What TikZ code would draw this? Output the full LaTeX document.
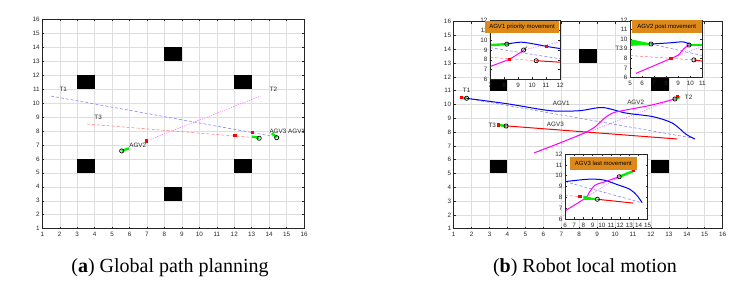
\documentclass[tikz,border=0pt]{standalone}
\usepackage{fontspec}
\setmainfont{Liberation Serif}
\setsansfont{Liberation Sans}
\usetikzlibrary{positioning}
\definecolor{gridgray}{HTML}{DEDEDE}
\definecolor{titleorange}{HTML}{DE8A1A}
\definecolor{agvgreen}{HTML}{00F000}
\definecolor{agvmagenta}{RGB}{255,0,255}
\definecolor{agvblue}{RGB}{0,0,255}
\definecolor{agvred}{RGB}{255,0,0}

% grid of an axes: xmin, xmax, ymin, ymax
\newcommand{\gridaxes}[4]{%
  \foreach \i in {#1,...,#2}{\draw[gridgray,line width=0.5pt] (\i,#3) -- (\i,#4);}
  \foreach \j in {#3,...,#4}{\draw[gridgray,line width=0.5pt] (#1,\j) -- (#2,\j);}}
% box, ticks and tick labels: xmin, xmax, ymin, ymax, name prefix
\newcommand{\axisframe}[5]{%
  \draw[black!85,line width=0.6pt] (#1,#3) rectangle (#2,#4);
  \foreach \i in {#1,...,#2}{
    \draw[black!85,line width=0.5pt] (\i,#3) -- ++(0pt,2pt) (\i,#4) -- ++(0pt,-2pt);
    \node[ticklbl,below=3pt] (#5x\i) at (\i,#3) {\i};}
  \foreach \j in {#3,...,#4}{
    \draw[black!85,line width=0.5pt] (#1,\j) -- ++(2pt,0pt) (#2,\j) -- ++(-2pt,0pt);
    \node[ticklbl,left=2pt] (#5y\j) at (#1,\j) {\j};}}
\newcommand{\redmark}[1]{\fill[agvred] #1 ++(-1.6pt,-1.6pt) rectangle ++(3.2pt,3.2pt);}
\newcommand{\agvmark}[1]{\draw[black,line width=0.7pt] #1 circle[radius=2.1pt];}

\begin{document}
\begin{tikzpicture}[x=1pt,y=1pt,
  ticklbl/.style={font=\sffamily\fontsize{6.3}{7}\selectfont,text=black!85,inner sep=0.5pt},
  plotlbl/.style={font=\sffamily\fontsize{6.3}{7}\selectfont,text=black!85,inner sep=0.5pt},
  titlebox/.style={fill=titleorange,font=\sffamily\fontsize{6}{7}\selectfont,inner sep=0pt},
  caption/.style={font=\rmfamily\fontsize{20}{24}\selectfont,inner sep=0pt,anchor=base},
  obstacle/.style={fill=black},
  tdash/.style={line width=0.5pt,dash pattern=on 3pt off 2pt},
  tdot/.style={line width=0.5pt,dash pattern=on 1.2pt off 1.2pt},
  route/.style={line width=1pt},
  agvtrail/.style={agvgreen,line width=2.4pt}]
\useasboundingbox (0,0) rectangle (752,294);

% (a) global path planning
\begin{scope}[shift={(24.85pt,51.34pt)},x=17.45pt,y=13.96pt]
\gridaxes{1}{16}{1}{16}
\foreach \ox/\oy in {3/11,8/13,12/11,3/5,12/5,8/3}
  \fill[obstacle] (\ox,\oy) rectangle ++(1,1);
\draw[agvblue!55,tdash] (1.5,10.5) -- (14.2,7.62);
\draw[agvred!55,tdash] (3.55,8.5) -- (13.4,7.5);
\draw[agvmagenta!65,tdot] (6.95,7.28) -- (13.5,10.5);
\draw[agvtrail] (5.55,6.57) -- (5.97,6.76);
\draw[agvtrail] (13.03,7.6) -- (13.43,7.5);
\draw[agvtrail] (14.15,7.83) -- (14.43,7.55);
\redmark{(6.95,7.28)} \redmark{(12.04,7.65)} \redmark{(13.03,7.88)}
\agvmark{(5.55,6.57)} \agvmark{(13.43,7.48)} \agvmark{(14.43,7.52)}
\node[plotlbl] (t1a) at (2.2,11.0) {T1};
\node[plotlbl] (t2a) at (14.25,11.0) {T2};
\node[plotlbl] (t3a) at (4.2,9.0) {T3};
\node[plotlbl,anchor=west] (agv2a) at (5.95,7.0) {AGV2};
\begin{scope}
\clip (1,1) rectangle (16,16);
\node[plotlbl,anchor=west] (agv3a) at (13.98,8.0) {AGV3};
\node[plotlbl,anchor=west] (agv1a) at (15.05,8.0) {AGV1};
\end{scope}
\axisframe{1}{16}{1}{16}{a}
\end{scope}

% (b) robot local motion
\begin{scope}[shift={(435.77pt,51.5pt)},x=17.93pt,y=13.8pt]
\gridaxes{1}{16}{1}{16}
\foreach \ox/\oy in {3/11,8/13,12/11,3/5,12/5,8/3}
  \fill[obstacle] (\ox,\oy) rectangle ++(1,1);
\draw[agvblue!55,tdash] (1.7,10.45) -- (14.4,7.55);
\draw[agvmagenta!65,tdot] (5.5,6.5) -- (13.3,10.4);
\draw[agvblue,route] plot[smooth] coordinates {(1.7,10.45) (4,10.05) (6.4,9.55) (8,9.55) (9.3,9.78) (10.6,9.38) (12.1,9.12) (13.2,8.65) (13.95,7.85) (14.45,7.5)};
\draw[agvred,route] (3.92,8.45) -- (13.47,7.5);
\draw[agvmagenta,route] plot[smooth] coordinates {(5.5,6.5) (7,7.25) (8.3,7.95) (8.9,8.4) (9.4,9.0) (9.9,9.4) (10.6,9.6) (12,9.95) (13.34,10.4)};
\draw[agvtrail] (1.35,10.5) -- (1.72,10.45);
\draw[agvtrail] (3.56,8.5) -- (3.92,8.45);
\draw[agvtrail] (13.34,10.4) -- (13.62,10.55);
\redmark{(1.45,10.52)} \redmark{(3.52,8.52)} \redmark{(13.5,10.6)}
\agvmark{(1.72,10.45)} \agvmark{(3.92,8.44)} \agvmark{(13.34,10.4)}
\node[plotlbl] (t1b) at (1.72,11.0) {T1};
\node[plotlbl] (t2b) at (14.1,10.55) {T2};
\node[plotlbl] (t3b) at (3.15,8.52) {T3};
\node[plotlbl] (agv1b) at (7.0,10.05) {AGV1};
\node[plotlbl] (agv2b) at (11.15,10.15) {AGV2};
\node[plotlbl] (agv3b) at (6.67,8.55) {AGV3};
\axisframe{1}{16}{1}{16}{b}
\end{scope}

% inset: AGV1 priority movement
\begin{scope}[shift={(392pt,156.08pt)},x=14pt,y=9.77pt]
\fill[white] (7,6) rectangle (12,12);
\begin{scope}
\clip (7,6) rectangle (12,12);
\draw[agvblue!55,tdash] (7,9.24) -- (12,8.1);
\draw[agvred!55,tdash] (7,8.25) -- (10.3,7.9);
\draw[agvmagenta!65,tdot] (9.4,9.0) -- (12,9.85);
\draw[agvblue,route] plot[smooth] coordinates {(8.2,9.6) (9.2,9.8) (10.2,9.6) (11.1,9.35) (12,9.15)};
\draw[agvred,route] (10.3,7.9) -- (12,7.75);
\draw[agvmagenta,route] (7,7.3) -- (8.4,8.05) -- (9.4,8.95);
\draw[agvtrail] (7,9.5) -- (8.2,9.6);
\draw[black!70,line width=0.6pt] (9.4,9.0) -- (9.65,9.35);
\redmark{(8.4,8.05)} \redmark{(11.05,9.35)}
\agvmark{(8.2,9.6)} \agvmark{(9.4,9.0)} \agvmark{(10.3,7.9)}
\end{scope}
\axisframe{7}{12}{6}{12}{p}
\end{scope}
\node[titlebox,minimum width=74pt,minimum height=12.5pt] (title1) at (522,267) {AGV1 priority movement};

% inset: AGV2 post movement
\begin{scope}[shift={(569.75pt,158.6pt)},x=12.05pt,y=9.62pt]
\fill[white] (5,6) rectangle (11,12);
\begin{scope}
\clip (5,6) rectangle (11,12);
\draw[agvblue!55,tdash] (6.75,9.5) -- (11,8.3);
\draw[agvred!55,tdash] (5,8.3) -- (10.3,7.85);
\draw[agvmagenta!65,tdot] (8.4,8.0) -- (11,9.25);
\draw[agvblue,route] plot[smooth] coordinates {(6.75,9.5) (8.3,9.62) (9.4,9.72) (10,9.45)};
\draw[agvred,route] (10.3,7.85) -- (11,7.72);
\draw[agvmagenta,route] plot[smooth] coordinates {(5.5,6.45) (7,7.25) (8.4,8.0) (9.0,8.35) (9.5,9.05) (9.9,9.4)};
\fill[agvgreen] (5,10.0) -- (6.75,9.56) -- (6.75,9.44) -- (5,9.3) -- cycle;
\draw[agvgreen,line width=2pt] (9.9,9.42) -- (11,9.42);
\redmark{(8.4,8.0)}
\agvmark{(6.75,9.5)} \agvmark{(9.9,9.4)} \agvmark{(10.3,7.85)}
\end{scope}
\axisframe{5}{11}{6}{12}{q}
\end{scope}
\node[titlebox,minimum width=70pt,minimum height=13pt] (title2) at (666.7,267.3) {AGV2 post movement};
\node[plotlbl,anchor=east] (t3q) at (623.5,245.2) {T3};

% inset: AGV3 last movement
\begin{scope}[shift={(509.86pt,10.02pt)},x=9.19pt,y=10.83pt]
\fill[white] (6,6) rectangle (15,12);
\begin{scope}
\clip (6,6) rectangle (15,12);
\draw[agvblue!55,tdash] (6,9.45) -- (14.4,7.5);
\draw[agvred!55,tdash] (6,8.2) -- (7.63,8.06);
\draw[agvmagenta!65,tdot] (8.2,7.95) -- (11.9,9.9);
\draw[agvblue,route] plot[smooth] coordinates {(6,9.45) (8.5,9.67) (10.2,9.6) (11.8,9.14) (13.07,8.74) (13.8,8.2) (14.4,7.5)};
\draw[agvred,route] (9.52,7.82) -- (13.43,7.47);
\draw[agvmagenta,route] plot[smooth] coordinates {(6,6.75) (8.2,7.92) (8.6,8.4) (9.25,9.12) (10.2,9.4) (11.9,9.9)};
\draw[agvtrail] (11.9,9.9) -- (13.4,10.42);
\fill[agvgreen] (8.0,8.15) -- (9.5,7.86) -- (9.5,7.78) -- (8.0,7.75) -- cycle;
\redmark{(13.43,10.45)} \redmark{(7.63,8.06)}
\agvmark{(11.9,9.9)} \agvmark{(9.52,7.82)}
\end{scope}
\axisframe{6}{15}{6}{12}{r}
\end{scope}
\node[titlebox,minimum width=66.7pt,minimum height=13.3pt] (title3) at (603.3,130.7) {AGV3 last movement};

% captions
\node[caption] (capa) at (170,21.7) {(\textbf{a}) Global path planning};
\node[caption] (capb) at (585,21.7) {(\textbf{b}) Robot local motion};
\end{tikzpicture}
\end{document}
